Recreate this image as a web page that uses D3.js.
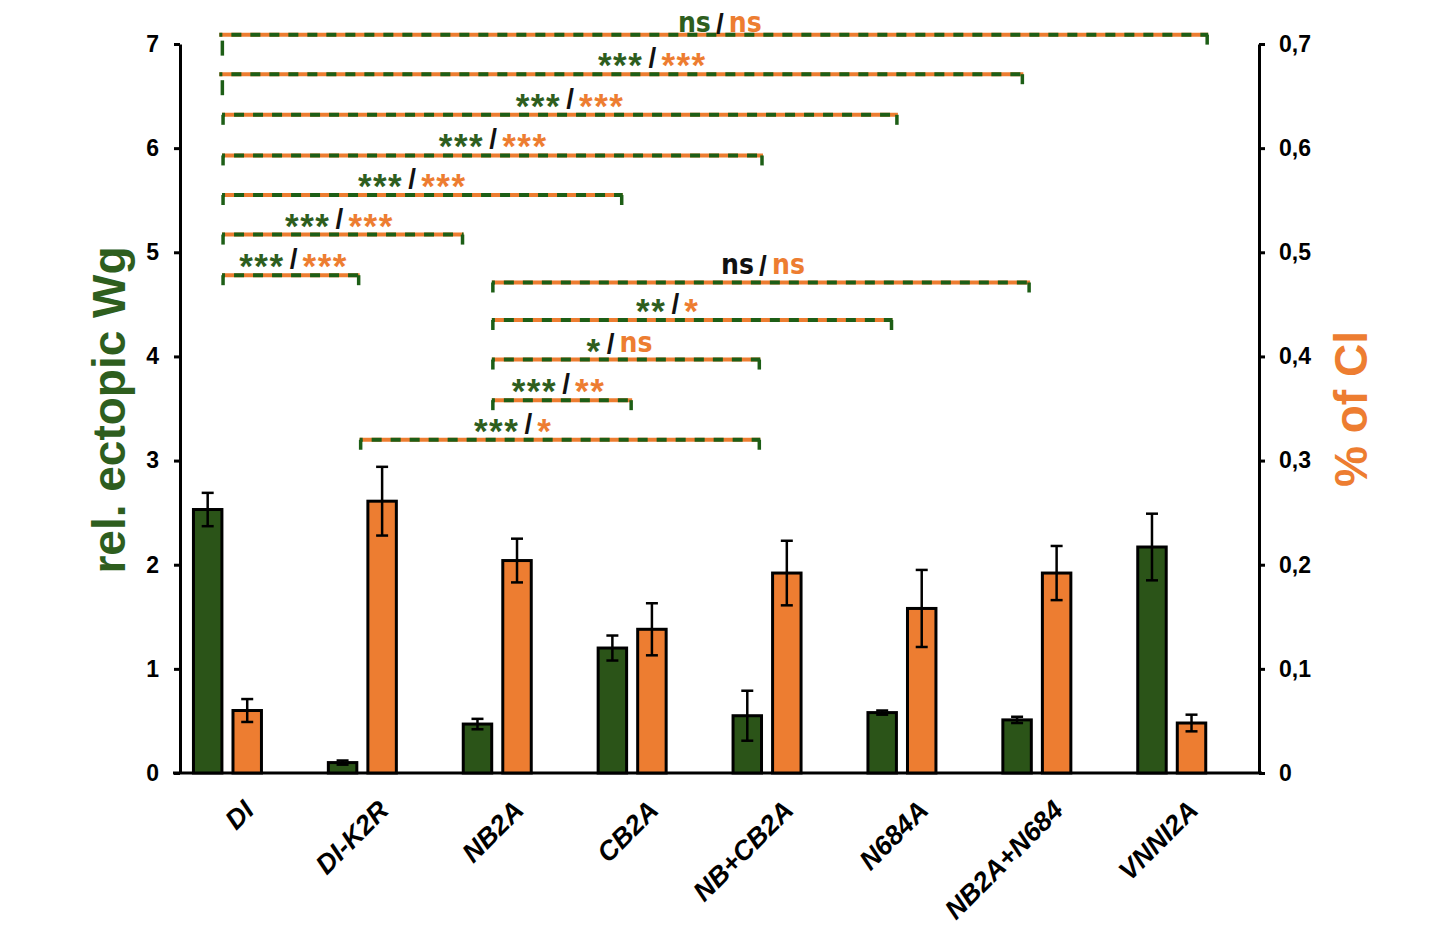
<!DOCTYPE html>
<html>
<head>
<meta charset="utf-8">
<script src="https://cdn.jsdelivr.net/npm/d3@7"></script>
<style>
  body { margin: 0; background: #fff; }
  svg { display: block; font-family: Arial, "Liberation Sans", sans-serif; }
</style>
</head>
<body>
<div id="chart"></div>
<script>
const categories = ["DI", "DI-K2R", "NB2A", "CB2A", "NB+CB2A", "N684A", "NB2A+N684", "VNNI2A"];
const wgValues = [2.53, 0.10, 0.47, 1.20, 0.55, 0.58, 0.51, 2.17];
const wgErrors = [0.16, 0.02, 0.05, 0.12, 0.24, 0.02, 0.03, 0.32];
const ciValues = [0.060, 0.261, 0.204, 0.138, 0.192, 0.158, 0.192, 0.048];
const ciErrors = [0.011, 0.033, 0.021, 0.025, 0.031, 0.037, 0.026, 0.008];
const wgTicks = [0, 1, 2, 3, 4, 5, 6, 7];
const ciTicks = [0, 0.1, 0.2, 0.3, 0.4, 0.5, 0.6, 0.7];

// significance brackets: ends and "/" position in category units, level in Wg units
const brackets = [
  { from: -0.06, to: 7.27, level: 7.09, wg: "ns", ci: "ns", slash: 3.65, detached: true, lift: 5 },
  { from: -0.06, to: 5.90, level: 6.71, wg: "***", ci: "***", slash: 3.15, detached: true },
  { from: -0.04, to: 4.97, level: 6.32, wg: "***", ci: "***", slash: 2.54 },
  { from: -0.04, to: 3.97, level: 5.93, wg: "***", ci: "***", slash: 1.97 },
  { from: -0.04, to: 2.93, level: 5.55, wg: "***", ci: "***", slash: 1.37 },
  { from: -0.04, to: 1.75, level: 5.17, wg: "***", ci: "***", slash: 0.83 },
  { from: -0.04, to: 0.98, level: 4.78, wg: "***", ci: "***", slash: 0.49 },
  { from: 1.96, to: 5.95, level: 4.71, wg: "ns", ci: "ns", slash: 3.97, wgBlack: true },
  { from: 1.96, to: 4.93, level: 4.35, wg: "**", ci: "*", slash: 3.32 },
  { from: 1.96, to: 3.95, level: 3.97, wg: "*", ci: "ns", slash: 2.84 },
  { from: 1.96, to: 3.00, level: 3.58, wg: "***", ci: "**", slash: 2.51 },
  { from: 0.98, to: 3.95, level: 3.20, wg: "***", ci: "*", slash: 2.23 }
];

const green = "#2b5418";
const greenText = "#2e5e1e";
const dashGreen = "#1d5e16";
const orange = "#ed7d31";

const svg = d3.select("#chart").append("svg")
    .attr("width", 1448)
    .attr("height", 933);

const x = d3.scaleBand()
    .domain(categories)
    .range([160, 1239.2])
    .padding(0);

const sub = d3.scaleBand()
    .domain(["wg", "ci"])
    .range([-34, 34])
    .paddingInner(0.28);

const yL = d3.scaleLinear().domain([0, 7]).range([773, 44]);
const yR = d3.scaleLinear().domain([0, 0.7]).range([773, 44]);

const xPos = f => x(categories[0]) + x.bandwidth() / 2 + f * x.step();

// axes
const left = svg.append("g")
    .attr("transform", "translate(180,0)")
    .call(d3.axisLeft(yL).tickValues(wgTicks).tickSize(6).tickSizeOuter(0).tickPadding(15)
        .tickFormat(d3.format("d")));
const right = svg.append("g")
    .attr("transform", "translate(1259,0)")
    .call(d3.axisRight(yR).tickValues(ciTicks).tickSize(6).tickSizeOuter(0).tickPadding(14)
        .tickFormat(d => d === 0 ? "0" : d3.format(".1f")(d).replace(".", ",")));
[left, right].forEach(a => {
  a.select(".domain").attr("stroke", "#000").attr("stroke-width", 3);
  a.selectAll(".tick line").attr("stroke", "#000").attr("stroke-width", 3);
  a.selectAll(".tick text")
      .attr("fill", "#000")
      .style("font-size", "23px")
      .style("font-weight", "bold")
      .style("font-family", "Arial, 'Liberation Sans', sans-serif");
});

// x axis: line plus rotated category labels
const bottom = svg.append("g")
    .attr("transform", "translate(0,773)")
    .call(d3.axisBottom(x).tickSize(0));
bottom.select(".domain").remove();
bottom.append("line")
    .attr("x1", 173).attr("x2", 1262)
    .attr("stroke", "#000").attr("stroke-width", 3);
bottom.selectAll(".tick text")
    .attr("y", 0).attr("dy", 0)
    .attr("transform", "translate(28,39) rotate(-45)")
    .attr("text-anchor", "end")
    .attr("fill", "#000")
    .style("font-size", "27px")
    .style("font-weight", "bold")
    .style("font-style", "italic")
    .style("font-family", "Arial, 'Liberation Sans', sans-serif");

// bars
const groups = svg.append("g").selectAll("g")
    .data(categories)
    .join("g")
    .attr("transform", d => `translate(${x(d) + x.bandwidth() / 2},0)`);

groups.append("rect")
    .attr("x", sub("wg"))
    .attr("y", (d, i) => yL(wgValues[i]))
    .attr("width", sub.bandwidth())
    .attr("height", (d, i) => yL(0) - yL(wgValues[i]))
    .attr("fill", green)
    .attr("stroke", "#000")
    .attr("stroke-width", 3);

groups.append("rect")
    .attr("x", sub("ci"))
    .attr("y", (d, i) => yR(ciValues[i]))
    .attr("width", sub.bandwidth())
    .attr("height", (d, i) => yR(0) - yR(ciValues[i]))
    .attr("fill", orange)
    .attr("stroke", "#000")
    .attr("stroke-width", 3);

// error bars
function errorBar(sel, key, vals, errs, y) {
  const cx = sub(key) + sub.bandwidth() / 2;
  const g = sel.append("g").attr("stroke", "#000").attr("stroke-width", 2.5);
  g.append("line")
      .attr("x1", cx).attr("x2", cx)
      .attr("y1", (d, i) => y(vals[i] + errs[i]))
      .attr("y2", (d, i) => y(vals[i] - errs[i]));
  [1, -1].forEach(s => {
    g.append("line")
        .attr("x1", cx - 6).attr("x2", cx + 6)
        .attr("y1", (d, i) => y(vals[i] + s * errs[i]))
        .attr("y2", (d, i) => y(vals[i] + s * errs[i]));
  });
}
errorBar(groups, "wg", wgValues, wgErrors, yL);
errorBar(groups, "ci", ciValues, ciErrors, yR);

// significance brackets
const sig = svg.append("g");
brackets.forEach(b => {
  const y0 = yL(b.level);
  const x1 = xPos(b.from), x2 = xPos(b.to);
  sig.append("line")
      .attr("x1", x1).attr("x2", x2).attr("y1", y0).attr("y2", y0)
      .attr("stroke", orange).attr("stroke-width", 4);
  sig.append("line")
      .attr("x1", x1).attr("x2", x2).attr("y1", y0).attr("y2", y0)
      .attr("stroke", dashGreen).attr("stroke-width", 4)
      .attr("stroke-dasharray", "10,9").attr("stroke-dashoffset", -12);
  const lx = b.detached ? x1 + 3 : x1 + 1;
  sig.append("line")
      .attr("x1", lx).attr("x2", lx)
      .attr("y1", b.detached ? y0 + 6 : y0)
      .attr("y2", b.detached ? y0 + 21 : y0 + 10)
      .attr("stroke", dashGreen).attr("stroke-width", 3.5);
  sig.append("line")
      .attr("x1", x2 - 1).attr("x2", x2 - 1)
      .attr("y1", y0).attr("y2", y0 + 10)
      .attr("stroke", dashGreen).attr("stroke-width", 3.5);

  const cy = y0 - 17 + (b.lift || 0);
  const sx = xPos(b.slash);
  const part = (txt, anchor, px, color) => {
    const star = txt.includes("*");
    sig.append("text")
        .attr("x", px)
        .attr("y", star ? cy + 20 : cy + 9)
        .attr("text-anchor", anchor)
        .attr("fill", color)
        .style("font-weight", "bold")
        .style("font-size", star ? "35px" : "28px")
        .style("letter-spacing", star ? "1.5px" : null)
        .style("font-family", star ? "Arial, 'Liberation Sans', sans-serif"
            : "'Liberation Sans Narrow', 'DejaVu Sans Condensed', Arial, sans-serif")
        .style("font-stretch", star ? null : "condensed")
        .text(txt);
  };
  part(b.wg, "end", sx - 9, b.wgBlack ? "#111" : greenText);
  sig.append("text")
      .attr("x", sx).attr("y", cy + 10)
      .attr("text-anchor", "middle")
      .attr("fill", "#111")
      .style("font-weight", "bold")
      .style("font-size", "28px")
      .text("/");
  part(b.ci, "start", sx + 9, orange);
});

// axis titles
svg.append("text")
    .attr("transform", "translate(125,410) rotate(-90)")
    .attr("text-anchor", "middle")
    .attr("fill", greenText)
    .style("font-size", "46px")
    .style("font-weight", "bold")
    .text("rel. ectopic Wg");

svg.append("text")
    .attr("transform", "translate(1367,409) rotate(-90)")
    .attr("text-anchor", "middle")
    .attr("fill", orange)
    .style("font-size", "46px")
    .style("font-weight", "bold")
    .text("% of Cl");
</script>
</body>
</html>
